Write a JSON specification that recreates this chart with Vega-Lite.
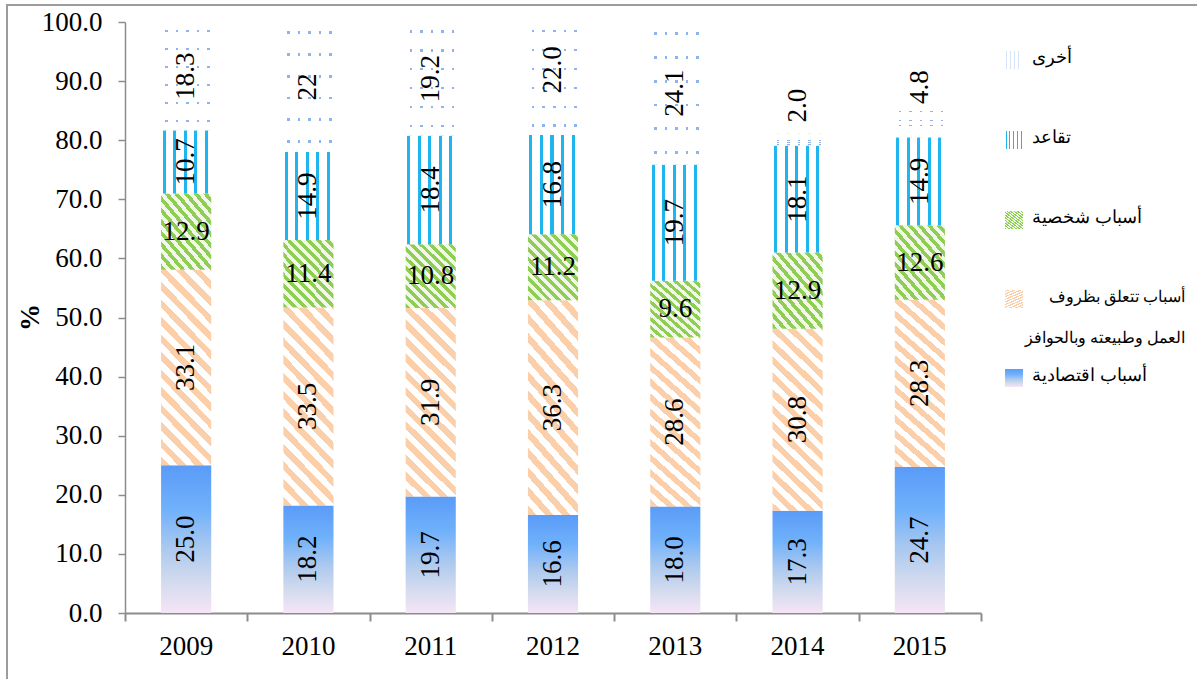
{
  "$schema": "https://vega.github.io/schema/vega-lite/v6.json",
  "width": 1190,
  "height": 674,
  "autosize": "none",
  "padding": {"left": 7, "top": 5, "right": 0, "bottom": 0},
  "background": "white",
  "config": {"view": {"stroke": "#9c9c9c", "strokeWidth": 2, "strokeDash": [1190, 1864, 674]}, "font": "Liberation Serif"},
  "data": {
    "values": [
      {"year": "2009", "cause": "أسباب اقتصادية", "value": 25.0, "label": "25.0"},
      {"year": "2009", "cause": "أسباب تتعلق بظروف العمل وطبيعته وبالحوافز", "value": 33.1, "label": "33.1"},
      {"year": "2009", "cause": "أسباب شخصية", "value": 12.9, "label": "12.9"},
      {"year": "2009", "cause": "تقاعد", "value": 10.7, "label": "10.7"},
      {"year": "2009", "cause": "أخرى", "value": 18.3, "label": "18.3"},
      {"year": "2010", "cause": "أسباب اقتصادية", "value": 18.2, "label": "18.2"},
      {"year": "2010", "cause": "أسباب تتعلق بظروف العمل وطبيعته وبالحوافز", "value": 33.5, "label": "33.5"},
      {"year": "2010", "cause": "أسباب شخصية", "value": 11.4, "label": "11.4"},
      {"year": "2010", "cause": "تقاعد", "value": 14.9, "label": "14.9"},
      {"year": "2010", "cause": "أخرى", "value": 22, "label": "22"},
      {"year": "2011", "cause": "أسباب اقتصادية", "value": 19.7, "label": "19.7"},
      {"year": "2011", "cause": "أسباب تتعلق بظروف العمل وطبيعته وبالحوافز", "value": 31.9, "label": "31.9"},
      {"year": "2011", "cause": "أسباب شخصية", "value": 10.8, "label": "10.8"},
      {"year": "2011", "cause": "تقاعد", "value": 18.4, "label": "18.4"},
      {"year": "2011", "cause": "أخرى", "value": 19.2, "label": "19.2"},
      {"year": "2012", "cause": "أسباب اقتصادية", "value": 16.6, "label": "16.6"},
      {"year": "2012", "cause": "أسباب تتعلق بظروف العمل وطبيعته وبالحوافز", "value": 36.3, "label": "36.3"},
      {"year": "2012", "cause": "أسباب شخصية", "value": 11.2, "label": "11.2"},
      {"year": "2012", "cause": "تقاعد", "value": 16.8, "label": "16.8"},
      {"year": "2012", "cause": "أخرى", "value": 22.0, "label": "22.0"},
      {"year": "2013", "cause": "أسباب اقتصادية", "value": 18.0, "label": "18.0"},
      {"year": "2013", "cause": "أسباب تتعلق بظروف العمل وطبيعته وبالحوافز", "value": 28.6, "label": "28.6"},
      {"year": "2013", "cause": "أسباب شخصية", "value": 9.6, "label": "9.6"},
      {"year": "2013", "cause": "تقاعد", "value": 19.7, "label": "19.7"},
      {"year": "2013", "cause": "أخرى", "value": 24.1, "label": "24.1"},
      {"year": "2014", "cause": "أسباب اقتصادية", "value": 17.3, "label": "17.3"},
      {"year": "2014", "cause": "أسباب تتعلق بظروف العمل وطبيعته وبالحوافز", "value": 30.8, "label": "30.8"},
      {"year": "2014", "cause": "أسباب شخصية", "value": 12.9, "label": "12.9"},
      {"year": "2014", "cause": "تقاعد", "value": 18.1, "label": "18.1"},
      {"year": "2014", "cause": "أخرى", "value": 2.0, "label": "2.0"},
      {"year": "2015", "cause": "أسباب اقتصادية", "value": 24.7, "label": "24.7"},
      {"year": "2015", "cause": "أسباب تتعلق بظروف العمل وطبيعته وبالحوافز", "value": 28.3, "label": "28.3"},
      {"year": "2015", "cause": "أسباب شخصية", "value": 12.6, "label": "12.6"},
      {"year": "2015", "cause": "تقاعد", "value": 14.9, "label": "14.9"},
      {"year": "2015", "cause": "أخرى", "value": 4.8, "label": "4.8"}
    ]
  },
  "transform": [
    {"calculate": "indexof(['أسباب اقتصادية', 'أسباب تتعلق بظروف العمل وطبيعته وبالحوافز', 'أسباب شخصية', 'تقاعد', 'أخرى'], datum.cause)", "as": "stack_rank"}
  ],
  "layer": [
    {
      "mark": {"type": "bar", "clip": true},
      "encoding": {
        "x": {
          "field": "year", "type": "nominal",
          "scale": {"paddingInner": 0.59, "paddingOuter": 0.295, "range": [118, 974]},
          "axis": {"title": null, "orient": "bottom", "offset": -66, "ticks": false, "domain": false, "labelAngle": 0, "labelFontSize": 27, "labelFont": "Liberation Serif", "labelColor": "black", "labelPadding": 20}
        },
        "y": {
          "field": "value", "type": "quantitative", "stack": "zero", "title": "%",
          "scale": {"domain": [0, 100], "nice": false, "clamp": true, "range": [608, 17]},
          "axis": {"offset": -118, "values": [0, 10, 20, 30, 40, 50, 60, 70, 80, 90, 100], "format": ".1f", "grid": false, "labelFontSize": 27, "labelFont": "Liberation Serif", "labelColor": "black", "domainColor": "#8c8c8c", "domainWidth": 1.5, "tickColor": "#8c8c8c", "tickWidth": 1.5, "tickSize": 7, "labelPadding": 16, "titleFont": "Liberation Serif", "titleFontSize": 27, "titleFontWeight": "bold", "titleColor": "black", "titleX": -95, "titleY": 312, "titleAngle": 270, "titleAlign": "center", "titleBaseline": "middle"}
        },
        "order": {"field": "stack_rank", "type": "quantitative"},
        "color": {
          "field": "cause", "type": "nominal",
          "scale": {
            "domain": ["أخرى", "تقاعد", "أسباب شخصية", "أسباب تتعلق بظروف العمل وطبيعته وبالحوافز", "أسباب اقتصادية"],
            "range": [
              {"expr": "{gradient:'linear',x1:0,y1:0,x2:1,y2:0,stops:[{offset:0,color:'#ffffff'},{offset:0.08,color:'#ffffff'},{offset:0.08,color:'#8fb4ec'},{offset:0.13,color:'#8fb4ec'},{offset:0.13,color:'#ffffff'},{offset:0.29,color:'#ffffff'},{offset:0.29,color:'#8fb4ec'},{offset:0.34,color:'#8fb4ec'},{offset:0.34,color:'#ffffff'},{offset:0.5,color:'#ffffff'},{offset:0.5,color:'#8fb4ec'},{offset:0.55,color:'#8fb4ec'},{offset:0.55,color:'#ffffff'},{offset:0.71,color:'#ffffff'},{offset:0.71,color:'#8fb4ec'},{offset:0.76,color:'#8fb4ec'},{offset:0.76,color:'#ffffff'},{offset:0.92,color:'#ffffff'},{offset:0.92,color:'#8fb4ec'},{offset:0.97,color:'#8fb4ec'},{offset:0.97,color:'#ffffff'},{offset:1,color:'#ffffff'}]}"},
              {"expr": "{gradient:'linear',x1:0,y1:0,x2:1,y2:0,stops:[{offset:0,color:'#ffffff'},{offset:0.03,color:'#ffffff'},{offset:0.03,color:'#1fb5ee'},{offset:0.09,color:'#1fb5ee'},{offset:0.09,color:'#ffffff'},{offset:0.24,color:'#ffffff'},{offset:0.24,color:'#1fb5ee'},{offset:0.3,color:'#1fb5ee'},{offset:0.3,color:'#ffffff'},{offset:0.45,color:'#ffffff'},{offset:0.45,color:'#1fb5ee'},{offset:0.51,color:'#1fb5ee'},{offset:0.51,color:'#ffffff'},{offset:0.66,color:'#ffffff'},{offset:0.66,color:'#1fb5ee'},{offset:0.72,color:'#1fb5ee'},{offset:0.72,color:'#ffffff'},{offset:0.87,color:'#ffffff'},{offset:0.87,color:'#1fb5ee'},{offset:0.93,color:'#1fb5ee'},{offset:0.93,color:'#ffffff'},{offset:1,color:'#ffffff'}]}"},
              {"expr": "{gradient:'linear',x1:0,y1:1,x2:1,y2:-0.3,stops:[{offset:0,color:'#8fcd55'},{offset:0.036,color:'#8fcd55'},{offset:0.036,color:'#f1f8ea'},{offset:0.072,color:'#f1f8ea'},{offset:0.072,color:'#8fcd55'},{offset:0.108,color:'#8fcd55'},{offset:0.108,color:'#f1f8ea'},{offset:0.144,color:'#f1f8ea'},{offset:0.144,color:'#8fcd55'},{offset:0.18,color:'#8fcd55'},{offset:0.18,color:'#f1f8ea'},{offset:0.216,color:'#f1f8ea'},{offset:0.216,color:'#8fcd55'},{offset:0.252,color:'#8fcd55'},{offset:0.252,color:'#f1f8ea'},{offset:0.288,color:'#f1f8ea'},{offset:0.288,color:'#8fcd55'},{offset:0.324,color:'#8fcd55'},{offset:0.324,color:'#f1f8ea'},{offset:0.36,color:'#f1f8ea'},{offset:0.36,color:'#8fcd55'},{offset:0.396,color:'#8fcd55'},{offset:0.396,color:'#f1f8ea'},{offset:0.432,color:'#f1f8ea'},{offset:0.432,color:'#8fcd55'},{offset:0.468,color:'#8fcd55'},{offset:0.468,color:'#f1f8ea'},{offset:0.504,color:'#f1f8ea'},{offset:0.504,color:'#8fcd55'},{offset:0.54,color:'#8fcd55'},{offset:0.54,color:'#f1f8ea'},{offset:0.576,color:'#f1f8ea'},{offset:0.576,color:'#8fcd55'},{offset:0.612,color:'#8fcd55'},{offset:0.612,color:'#f1f8ea'},{offset:0.648,color:'#f1f8ea'},{offset:0.648,color:'#8fcd55'},{offset:0.684,color:'#8fcd55'},{offset:0.684,color:'#f1f8ea'},{offset:0.72,color:'#f1f8ea'},{offset:0.72,color:'#8fcd55'},{offset:0.756,color:'#8fcd55'},{offset:0.756,color:'#f1f8ea'},{offset:0.792,color:'#f1f8ea'},{offset:0.792,color:'#8fcd55'},{offset:0.828,color:'#8fcd55'},{offset:0.828,color:'#f1f8ea'},{offset:0.864,color:'#f1f8ea'},{offset:0.864,color:'#8fcd55'},{offset:0.9,color:'#8fcd55'},{offset:0.9,color:'#f1f8ea'},{offset:1,color:'#f1f8ea'}]}"},
              {"expr": "{gradient:'linear',x1:0,y1:1,x2:1,y2:-2.8,stops:[{offset:0,color:'#fbcfa9'},{offset:0.011,color:'#fbcfa9'},{offset:0.011,color:'#ffffff'},{offset:0.022,color:'#ffffff'},{offset:0.022,color:'#fbcfa9'},{offset:0.033,color:'#fbcfa9'},{offset:0.033,color:'#ffffff'},{offset:0.044,color:'#ffffff'},{offset:0.044,color:'#fbcfa9'},{offset:0.055,color:'#fbcfa9'},{offset:0.055,color:'#ffffff'},{offset:0.066,color:'#ffffff'},{offset:0.066,color:'#fbcfa9'},{offset:0.077,color:'#fbcfa9'},{offset:0.077,color:'#ffffff'},{offset:0.088,color:'#ffffff'},{offset:0.088,color:'#fbcfa9'},{offset:0.099,color:'#fbcfa9'},{offset:0.099,color:'#ffffff'},{offset:0.11,color:'#ffffff'},{offset:0.11,color:'#fbcfa9'},{offset:0.121,color:'#fbcfa9'},{offset:0.121,color:'#ffffff'},{offset:0.132,color:'#ffffff'},{offset:0.132,color:'#fbcfa9'},{offset:0.143,color:'#fbcfa9'},{offset:0.143,color:'#ffffff'},{offset:0.154,color:'#ffffff'},{offset:0.154,color:'#fbcfa9'},{offset:0.165,color:'#fbcfa9'},{offset:0.165,color:'#ffffff'},{offset:0.176,color:'#ffffff'},{offset:0.176,color:'#fbcfa9'},{offset:0.187,color:'#fbcfa9'},{offset:0.187,color:'#ffffff'},{offset:0.198,color:'#ffffff'},{offset:0.198,color:'#fbcfa9'},{offset:0.209,color:'#fbcfa9'},{offset:0.209,color:'#ffffff'},{offset:0.22,color:'#ffffff'},{offset:0.22,color:'#fbcfa9'},{offset:0.231,color:'#fbcfa9'},{offset:0.231,color:'#ffffff'},{offset:0.242,color:'#ffffff'},{offset:0.242,color:'#fbcfa9'},{offset:0.253,color:'#fbcfa9'},{offset:0.253,color:'#ffffff'},{offset:0.264,color:'#ffffff'},{offset:0.264,color:'#fbcfa9'},{offset:0.275,color:'#fbcfa9'},{offset:0.275,color:'#ffffff'},{offset:0.286,color:'#ffffff'},{offset:0.286,color:'#fbcfa9'},{offset:0.297,color:'#fbcfa9'},{offset:0.297,color:'#ffffff'},{offset:0.308,color:'#ffffff'},{offset:0.308,color:'#fbcfa9'},{offset:0.319,color:'#fbcfa9'},{offset:0.319,color:'#ffffff'},{offset:0.33,color:'#ffffff'},{offset:0.33,color:'#fbcfa9'},{offset:0.341,color:'#fbcfa9'},{offset:0.341,color:'#ffffff'},{offset:1,color:'#ffffff'}]}"},
              {"expr": "{gradient:'linear',x1:0,y1:0,x2:0,y2:1,stops:[{offset:0,color:'#5a9bf8'},{offset:0.3,color:'#70b1fb'},{offset:0.55,color:'#a9c8ef'},{offset:0.78,color:'#d2daee'},{offset:1,color:'#f5e5f6'}]}"}
            ]
          },
          "legend": {
            "title": null, "orient": "none", "legendX": 998, "legendY": 46, "padding": 0,
            "symbolType": "square", "symbolSize": 324, "symbolStrokeWidth": 0,
            "labelFont": "Liberation Serif", "labelFontSize": 18, "labelColor": "black", "labelLimit": 400, "labelOffset": 9,
            "rowPadding": 21,
            "labelExpr": "datum.label === 'أسباب تتعلق بظروف العمل وطبيعته وبالحوافز' ? ['أسباب تتعلق بظروف', 'العمل وطبيعته وبالحوافز'] : [datum.label, ' ']",
            "encode": {
              "symbols": {"update": {
                "fillOpacity": [{"test": "datum.value === 'أخرى'", "value": 0.35}, {"value": 1}]
              }},
              "labels": {"update": {
                "lineHeight": {"value": 41},
                "dy": {"value": -2},
                "fontSize": [{"test": "datum.value === 'أسباب تتعلق بظروف العمل وطبيعته وبالحوافز'", "value": 16}, {"value": 18}],
                "align": [{"test": "datum.value === 'أسباب تتعلق بظروف العمل وطبيعته وبالحوافز'", "value": "right"}, {"value": "left"}],
                "dx": [{"test": "datum.value === 'أسباب تتعلق بظروف العمل وطبيعته وبالحوافز'", "value": 153}, {"value": 0}]
              }}
            }
          }
        }
      }
    },
    {
      "mark": {"type": "bar", "clip": true},
      "encoding": {
        "x": {"field": "year", "type": "nominal", "scale": {"paddingInner": 0.59, "paddingOuter": 0.295, "range": [118, 974]}, "axis": null},
        "y": {"field": "value", "type": "quantitative", "stack": "zero", "title": "%"},
        "order": {"field": "stack_rank", "type": "quantitative"},
        "color": {
          "field": "cause", "type": "nominal",
          "scale": {
            "domain": ["أخرى", "تقاعد", "أسباب شخصية", "أسباب تتعلق بظروف العمل وطبيعته وبالحوافز", "أسباب اقتصادية"],
            "range": [
              {"expr": "{gradient:'linear',x1:0,y1:0,x2:0,y2:1,stops:[{offset:0,color:'#ffffff'},{offset:0.073,color:'#ffffff'},{offset:0.073,color:'rgba(255,255,255,0)'},{offset:0.093,color:'rgba(255,255,255,0)'},{offset:0.093,color:'#ffffff'},{offset:0.24,color:'#ffffff'},{offset:0.24,color:'rgba(255,255,255,0)'},{offset:0.26,color:'rgba(255,255,255,0)'},{offset:0.26,color:'#ffffff'},{offset:0.407,color:'#ffffff'},{offset:0.407,color:'rgba(255,255,255,0)'},{offset:0.427,color:'rgba(255,255,255,0)'},{offset:0.427,color:'#ffffff'},{offset:0.573,color:'#ffffff'},{offset:0.573,color:'rgba(255,255,255,0)'},{offset:0.593,color:'rgba(255,255,255,0)'},{offset:0.593,color:'#ffffff'},{offset:0.74,color:'#ffffff'},{offset:0.74,color:'rgba(255,255,255,0)'},{offset:0.76,color:'rgba(255,255,255,0)'},{offset:0.76,color:'#ffffff'},{offset:0.907,color:'#ffffff'},{offset:0.907,color:'rgba(255,255,255,0)'},{offset:0.927,color:'rgba(255,255,255,0)'},{offset:0.927,color:'#ffffff'},{offset:1,color:'#ffffff'}]}"},
              "transparent", "transparent", "transparent", "transparent"
            ]
          },
          "legend": null
        }
      }
    },
    {
      "mark": {"type": "text", "font": "Liberation Serif", "fontSize": 27, "baseline": "middle", "align": "center",
        "dx": {"expr": "datum.cause === 'أخرى' && datum.year === '2014' ? 34 : (datum.cause === 'أخرى' && datum.year === '2015' ? 36 : 0)"}},
      "encoding": {
        "x": {
          "field": "year", "type": "nominal",
          "scale": {"paddingInner": 0, "paddingOuter": 0, "range": [118, 974]},
          "axis": {"title": null, "orient": "bottom", "offset": -66, "labels": false, "ticks": true, "tickBand": "extent", "tickSize": 8, "tickColor": "#8c8c8c", "tickWidth": 2, "domainColor": "#8c8c8c", "domainWidth": 2}
        },
        "y": {"field": "value", "type": "quantitative", "stack": "zero", "bandPosition": 0.5, "title": "%"},
        "order": {"field": "stack_rank", "type": "quantitative"},
        "color": {
          "field": "cause", "type": "nominal",
          "scale": {
            "domain": ["أخرى", "تقاعد", "أسباب شخصية", "أسباب تتعلق بظروف العمل وطبيعته وبالحوافز", "أسباب اقتصادية"],
            "range": ["black", "black", "black", "black", "black"]
          },
          "legend": null
        },
        "text": {"field": "label"},
        "angle": {"condition": {"test": "datum.cause === 'أسباب شخصية'", "value": 0}, "value": 270}
      }
    }
  ],
  "resolve": {"scale": {"x": "independent", "color": "independent"}}
}
